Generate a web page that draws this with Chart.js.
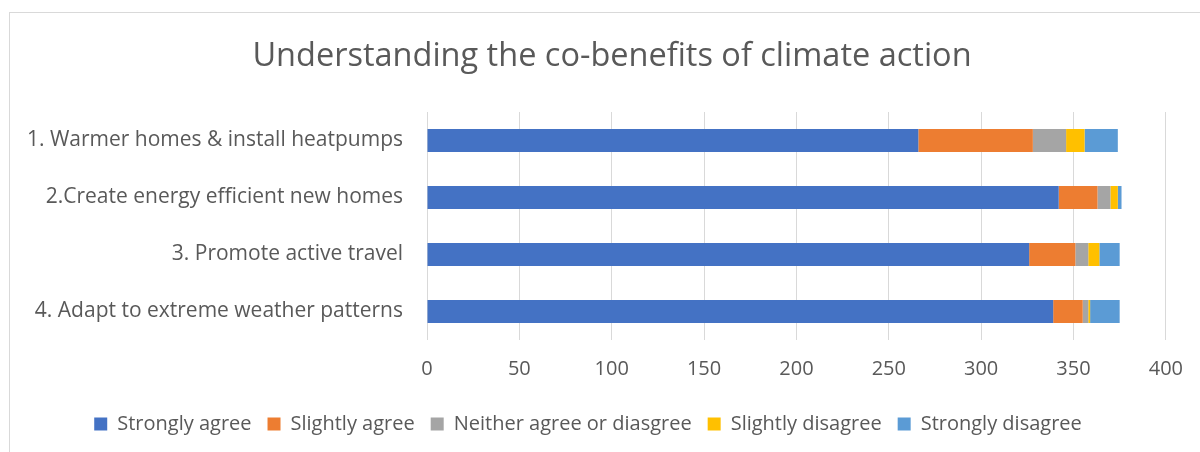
<!DOCTYPE html>
<html>
<head>
<meta charset="utf-8">
<script src="https://cdn.jsdelivr.net/npm/chart.js@4/dist/chart.umd.min.js"></script>
<style>
  html, body { margin: 0; padding: 0; background: #ffffff; }
  #wrap { position: absolute; left: 0; top: 0; width: 1200px; height: 452px; }
</style>
</head>
<body>
<div id="wrap"><canvas id="c" width="1200" height="452"></canvas></div>
<script>
// Survey responses per action
const categories = [
  "1. Warmer homes & install heatpumps",
  "2.Create energy efficient new homes",
  "3. Promote active travel",
  "4. Adapt to extreme weather patterns"
];
const stronglyAgree    = [266, 342, 326, 339];
const slightlyAgree    = [62, 21, 25, 16];
const neitherAgree     = [18, 7, 7, 3];
const slightlyDisagree = [10, 4, 6, 1];
const stronglyDisagree = [18, 2, 11, 16];
const xTicks = [0, 50, 100, 150, 200, 250, 300, 350, 400];

const seriesNames = ["Strongly agree", "Slightly agree", "Neither agree or diasgree", "Slightly disagree", "Strongly disagree"];
const seriesValues = [stronglyAgree, slightlyAgree, neitherAgree, slightlyDisagree, stronglyDisagree];
const seriesColors = ["#4472C4", "#ED7D31", "#A5A5A5", "#FFC000", "#5B9BD5"];

const chartTitle = "Understanding the co-benefits of climate action";

const FONT = "'Open Sans', 'Noto Sans', sans-serif";
const TEXT = "#595959";

// Grey frame around the chart, and the title centred on that frame
const frameAndTitle = {
  id: 'frameAndTitle',
  beforeDraw(chart) {
    const ctx = chart.ctx;
    ctx.save();
    ctx.strokeStyle = '#d9d9d9';
    ctx.lineWidth = 1;
    ctx.strokeRect(9.5, 12.5, 1400, 600);
    ctx.fillStyle = TEXT;
    ctx.font = "32.5px " + FONT;
    ctx.textAlign = 'center';
    ctx.textBaseline = 'alphabetic';
    ctx.fillText(chartTitle, 612, 66);
    ctx.restore();
  }
};

new Chart(document.getElementById('c'), {
  type: 'bar',
  data: {
    labels: categories,
    datasets: seriesNames.map((name, i) => ({
      label: name,
      data: seriesValues[i],
      backgroundColor: seriesColors[i],
      borderWidth: 0,
      categoryPercentage: 1,
      barPercentage: 0.4
    }))
  },
  plugins: [frameAndTitle],
  options: {
    indexAxis: 'y',
    responsive: false,
    animation: false,
    devicePixelRatio: 1,
    layout: { padding: { left: 10, right: 34, top: 112, bottom: 8 } },
    plugins: {
      title: { display: false },
      legend: {
        position: 'bottom',
        labels: {
          color: TEXT,
          font: { family: FONT, size: 20 },
          boxWidth: 13,
          boxHeight: 13,
          padding: 16
        }
      },
      tooltip: { enabled: false }
    },
    scales: {
      x: {
        stacked: true,
        min: 0,
        max: 400,
        afterBuildTicks(axis) { axis.ticks = xTicks.map(v => ({ value: v })); },
        ticks: { color: TEXT, font: { family: FONT, size: 20 }, padding: 17 },
        grid: { color: '#d9d9d9', drawTicks: false },
        border: { display: false }
      },
      y: {
        stacked: true,
        afterFit(axis) { axis.width = 417; },
        ticks: { color: TEXT, font: { family: FONT, size: 21 }, padding: 24 },
        grid: { display: false, drawTicks: false },
        border: { display: false }
      }
    }
  }
});
</script>
</body>
</html>
